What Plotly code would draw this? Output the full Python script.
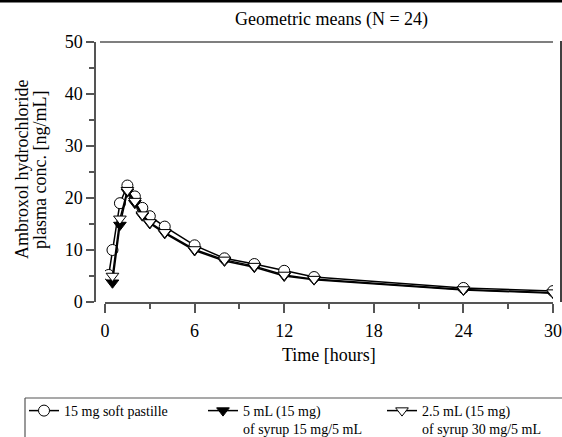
import plotly.graph_objects as go

# ---- data ----
t_pastille = [0.25, 0.5, 1, 1.5, 2, 2.5, 3, 4, 6, 8, 10, 12, 14, 24, 30]
c_pastille = [5.2, 10.0, 19.0, 22.4, 20.3, 18.1, 16.5, 14.5, 10.9, 8.4, 7.3, 6.0, 4.8, 2.7, 2.1]
t_syrup = [0.5, 1, 1.5, 2, 2.5, 3, 4, 6, 8, 10, 12, 14, 24, 30]
c_syrup15 = [3.7, 14.8, 21.2, 19.0, 16.6, 15.1, 13.2, 9.9, 7.9, 6.7, 5.0, 4.3, 2.3, 1.7]
c_syrup30 = [5.0, 16.0, 21.5, 19.4, 16.8, 15.3, 13.4, 10.1, 8.1, 6.9, 5.2, 4.4, 2.4, 1.8]

names = ["15 mg soft pastille",
         "5 mL (15 mg)<br>of syrup 15 mg/5 mL",
         "2.5 mL (15 mg)<br>of syrup 30 mg/5 mL"]
x_ticks = [0, 6, 12, 18, 24, 30]
y_ticks = [0, 10, 20, 30, 40, 50]

W, H = 562, 437
ML, MR, MT, MB = 95, 9, 42, 135
PW = W - ML - MR
PH = H - MT - MB

def px(x):
    return (x - ML) / PW

def py(y):
    return (H - MB - y) / PH

FONT = "Liberation Serif, Times New Roman, serif"
AX = "#555555"
FS = 18

fig = go.Figure()
fig.add_trace(go.Scatter(x=t_pastille, y=c_pastille, name=names[0], mode="lines+markers",
                         line=dict(color="black", width=1.5),
                         marker=dict(symbol="circle", size=11, color="white",
                                     line=dict(color="black", width=1))))
fig.add_trace(go.Scatter(x=t_syrup, y=c_syrup15, name=names[1], mode="lines+markers",
                         line=dict(color="black", width=1.5),
                         marker=dict(symbol="triangle-down", size=11, color="black",
                                     line=dict(color="black", width=1))))
fig.add_trace(go.Scatter(x=t_syrup, y=c_syrup30, name=names[2], mode="lines+markers",
                         line=dict(color="black", width=1.5),
                         marker=dict(symbol="triangle-down", size=11, color="white",
                                     line=dict(color="black", width=1))))

fig.update_layout(
    width=W, height=H,
    margin=dict(l=ML, r=MR, t=MT, b=MB, autoexpand=False),
    paper_bgcolor="white", plot_bgcolor="white",
    font=dict(family=FONT, size=FS, color="black"),
    showlegend=True,
    legend=dict(orientation="h", x=px(24), y=py(395), xanchor="left", yanchor="top",
                font=dict(size=14, family=FONT), entrywidth=134, valign="top",
                bgcolor="rgba(0,0,0,0)", traceorder="normal",
                tracegroupgap=0),
    xaxis=dict(range=[0, 30], domain=[10 / PW, 1], tickvals=x_ticks,
               showline=True, linecolor=AX, linewidth=1.5, showgrid=False, zeroline=False,
               ticks="outside", ticklen=9, tickwidth=1.5, tickcolor=AX,
               minor=dict(dtick=3, tick0=0, ticks="outside", ticklen=5, tickwidth=1.5, tickcolor=AX),
               tickfont=dict(size=FS, family=FONT), automargin=False, ticklabelstandoff=3),
    yaxis=dict(range=[0, 50], anchor="free", position=0, tickvals=y_ticks,
               showline=True, linecolor=AX, linewidth=1.5, showgrid=False, zeroline=False,
               ticks="outside", ticklen=8, tickwidth=1.5, tickcolor=AX,
               minor=dict(dtick=5, tick0=0, ticks="outside", ticklen=5, tickwidth=1.5, tickcolor=AX),
               tickfont=dict(size=FS, family=FONT), automargin=False),
)

shapes = [
    # thick top bar
    dict(type="line", xref="paper", yref="paper", x0=px(0), x1=px(562), y0=py(1), y1=py(1),
         line=dict(color="black", width=3)),
    # top frame line
    dict(type="line", xref="paper", yref="paper", x0=px(100), x1=px(553), y0=py(42), y1=py(42),
         line=dict(color=AX, width=1.5)),
    # right frame line
    dict(type="line", xref="paper", yref="paper", x0=px(561), x1=px(561), y0=py(41), y1=py(302),
         line=dict(color="black", width=1.5)),
    # legend box
    dict(type="line", xref="paper", yref="paper", x0=px(25), x1=px(570), y0=py(398), y1=py(398),
         line=dict(color=AX, width=1.2)),
    dict(type="line", xref="paper", yref="paper", x0=px(25), x1=px(25), y0=py(398), y1=py(445),
         line=dict(color=AX, width=1.2)),
]
fig.update_layout(shapes=shapes)

fig.add_annotation(text="Geometric means (N = 24)", xref="paper", yref="paper",
                   x=px(331), y=py(19), xanchor="center", yanchor="middle",
                   showarrow=False, font=dict(size=FS, family=FONT))
fig.add_annotation(text="Time [hours]", xref="paper", yref="paper",
                   x=px(329), y=py(355), xanchor="center", yanchor="middle",
                   showarrow=False, font=dict(size=FS, family=FONT))
fig.add_annotation(text="Ambroxol hydrochloride", xref="paper", yref="paper",
                   x=px(22), y=py(170), xanchor="center", yanchor="middle",
                   showarrow=False, textangle=-90, font=dict(size=FS, family=FONT))
fig.add_annotation(text="plasma conc. [ng/mL]", xref="paper", yref="paper",
                   x=px(40), y=py(170), xanchor="center", yanchor="middle",
                   showarrow=False, textangle=-90, font=dict(size=FS, family=FONT))

fig.write_html("out.html", config={"displayModeBar": False},
               post_script="document.body.style.margin='0px';document.body.style.overflow='hidden';")
